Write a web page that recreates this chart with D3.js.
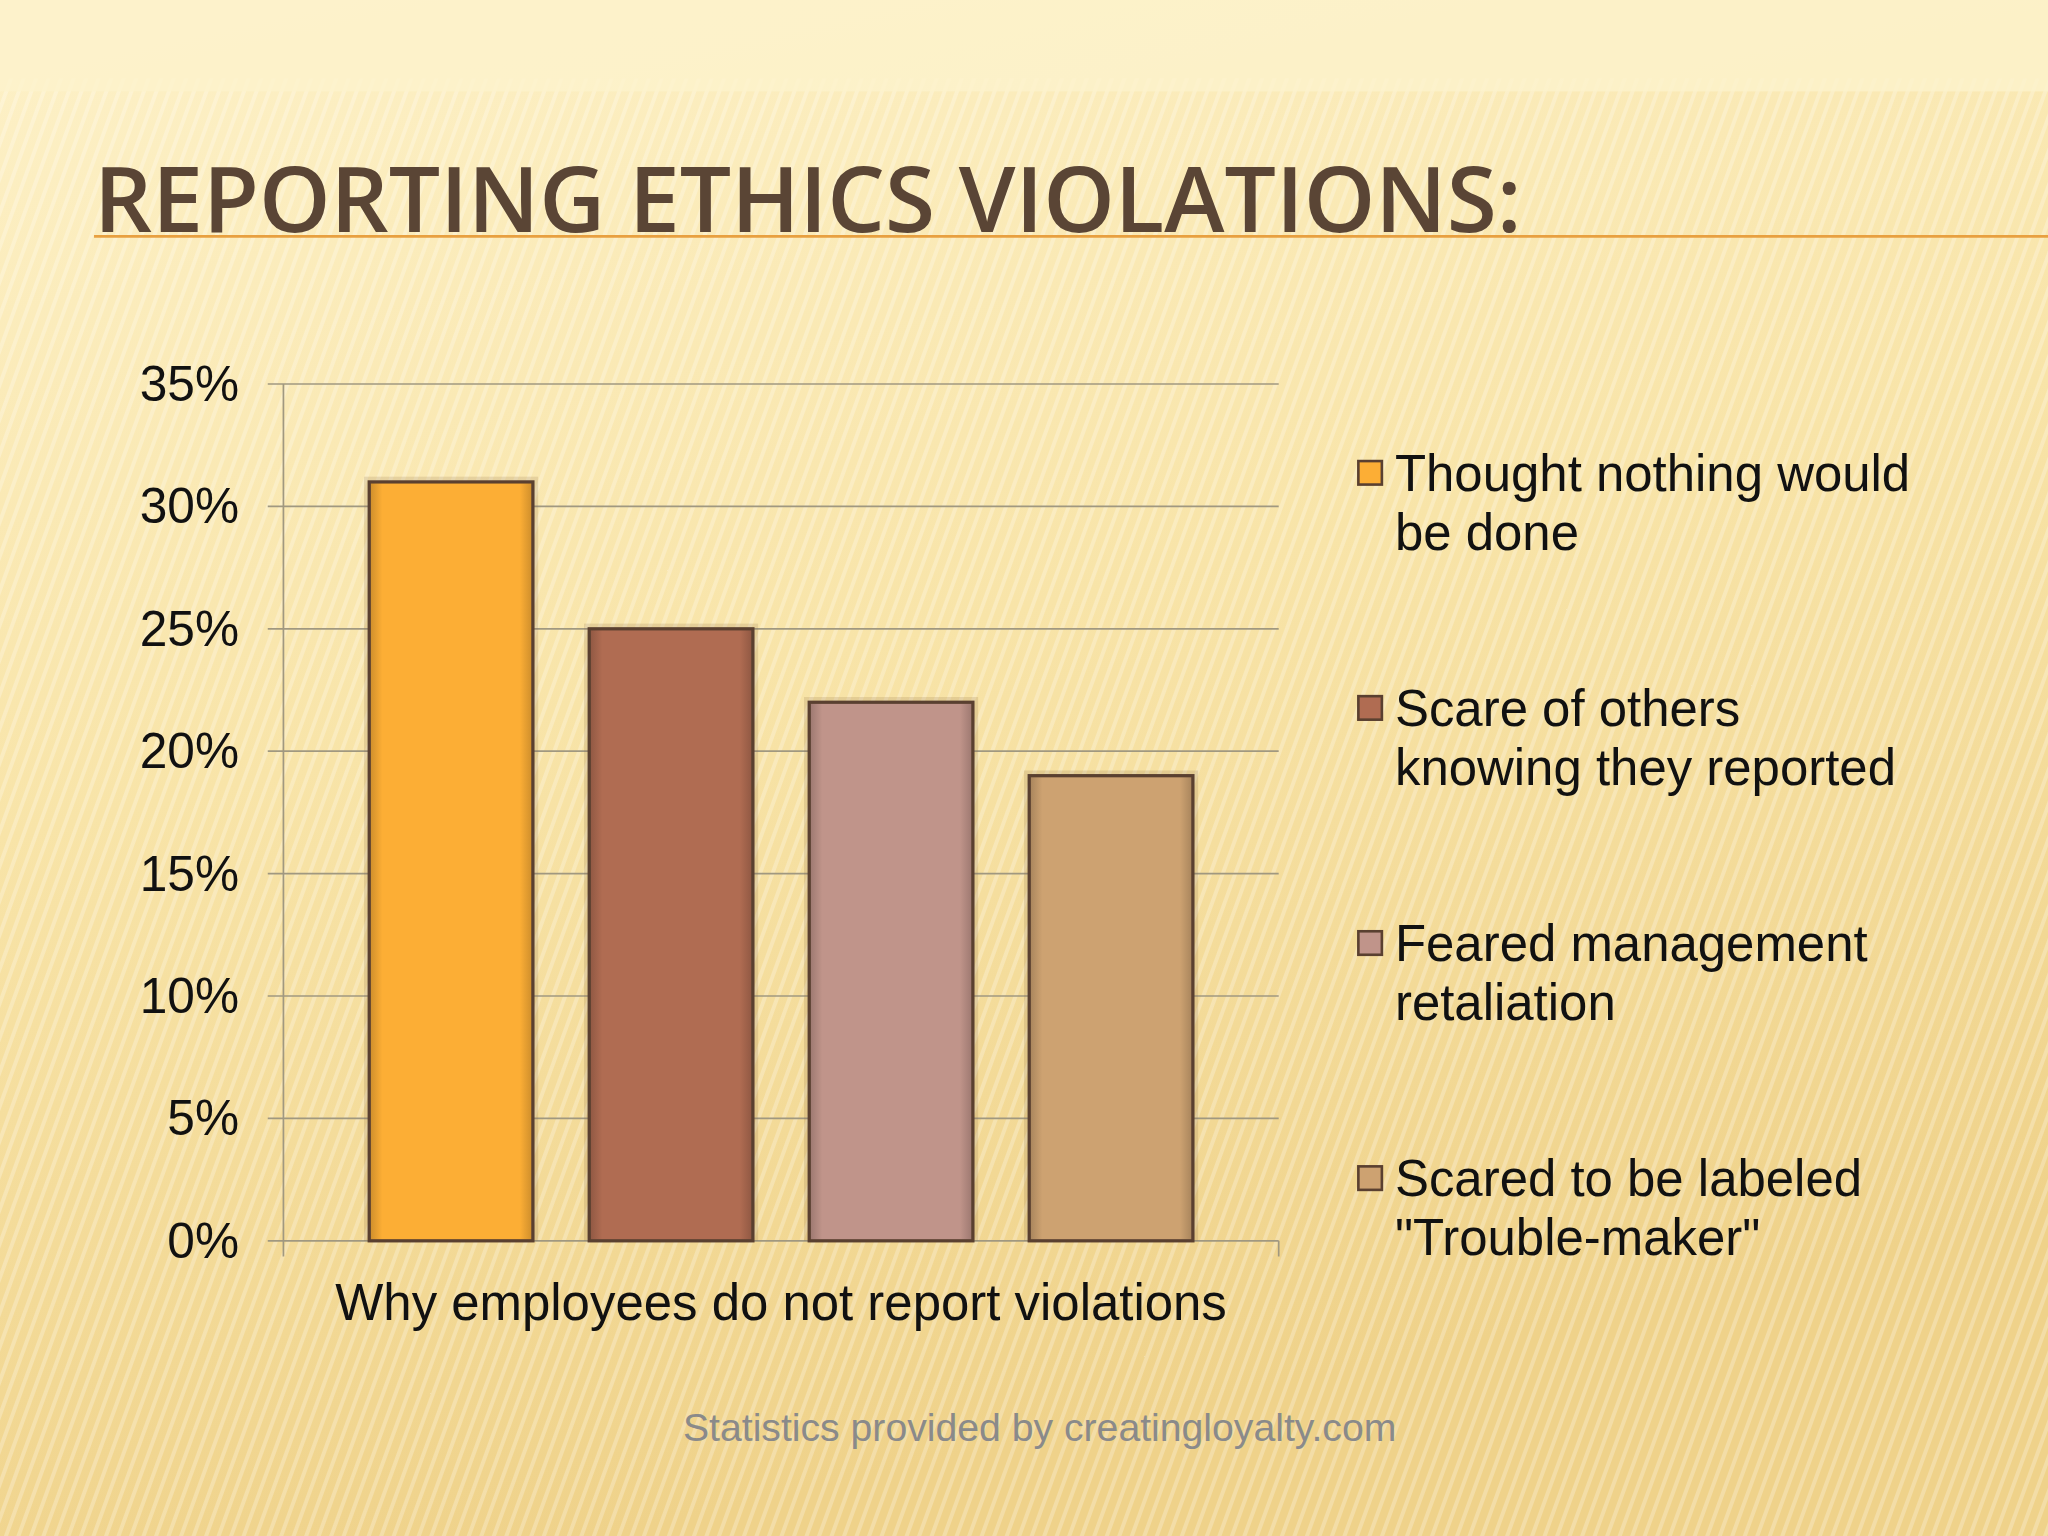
<!DOCTYPE html>
<html><head><meta charset="utf-8">
<script src="https://cdn.jsdelivr.net/npm/d3@7"></script>
<style>body{margin:0;overflow:hidden}</style>
</head><body>
<script>
var categories = ["Thought nothing would be done", "Scare of others knowing they reported",
                  "Feared management retaliation", "Scared to be labeled \"Trouble-maker\""];
var legendLines = [["Thought nothing would", "be done"], ["Scare of others", "knowing they reported"],
                   ["Feared management", "retaliation"], ["Scared to be labeled", "\"Trouble-maker\""]];
var values = [0.31, 0.25, 0.22, 0.19];
var ticks = [0, 0.05, 0.10, 0.15, 0.20, 0.25, 0.30, 0.35];
var colors = ["#fcae35", "#b06c52", "#c0948a", "#cda271"];

var W = 1568, H = 1176;
var svg = d3.select("body").append("svg")
    .attr("width", 2048).attr("height", 1536)
    .attr("viewBox", "0 0 " + W + " " + H);
var defs = svg.append("defs");

// background
var bg = defs.append("linearGradient").attr("id", "bg").attr("x1", 0).attr("y1", 0).attr("x2", 0.3).attr("y2", 1);
bg.append("stop").attr("offset", 0).attr("stop-color", "#fdf1c8");
bg.append("stop").attr("offset", 0.5).attr("stop-color", "#f8e4a8");
bg.append("stop").attr("offset", 1).attr("stop-color", "#efd28a");
svg.append("rect").attr("width", W).attr("height", H).attr("fill", "url(#bg)");
var pat = defs.append("pattern").attr("id", "stripes").attr("width", 9).attr("height", 9)
    .attr("patternUnits", "userSpaceOnUse").attr("patternTransform", "rotate(20)");
pat.append("rect").attr("width", 3).attr("height", 9).attr("fill", "#ffffff").attr("opacity", 0.25);
svg.append("rect").attr("y", 60).attr("width", W).attr("height", H - 60).attr("fill", "url(#stripes)");
svg.append("rect").attr("width", W).attr("height", 70).attr("fill", "#fdf2cc").attr("opacity", 0.8);

// title
svg.append("line").attr("x1", 72).attr("x2", W).attr("y1", 181).attr("y2", 181)
    .attr("stroke", "#e8a040").attr("stroke-width", 2);
svg.append("text").attr("x", 72).attr("y", 178)
    .attr("font-family", "Open Sans, sans-serif").attr("font-size", 70).attr("font-weight", 600)
    .attr("fill", "#5a4535").attr("textLength", 1093).attr("lengthAdjust", "spacingAndGlyphs")
    .text("REPORTING ETHICS VIOLATIONS:");

// scales
var y = d3.scaleLinear().domain([0, 0.35]).range([950, 294]);
var x = d3.scaleBand().domain(categories).range([217, 979]).paddingInner(0.256).paddingOuter(0.39);
var font = "Liberation Sans, Arial, sans-serif";

var g = svg.append("g");
g.selectAll(".grid").data(ticks).join("line")
    .attr("x1", 205).attr("x2", 979).attr("y1", d => y(d)).attr("y2", d => y(d))
    .attr("stroke", "#a09880").attr("stroke-width", 1.3);
g.append("line").attr("x1", 217).attr("x2", 217).attr("y1", 294).attr("y2", 950).attr("stroke", "#a09880").attr("stroke-width", 1.3);
g.append("line").attr("x1", 979).attr("x2", 979).attr("y1", 950).attr("y2", 962).attr("stroke", "#a09880").attr("stroke-width", 1.3);
g.append("line").attr("x1", 217).attr("x2", 217).attr("y1", 950).attr("y2", 962).attr("stroke", "#a09880").attr("stroke-width", 1.3);
g.selectAll(".tl").data(ticks).join("text")
    .attr("x", 183).attr("y", d => y(d) + 13).attr("text-anchor", "end")
    .attr("font-family", font).attr("font-size", 38).attr("fill", "#111")
    .text(d => d3.format(".0%")(d));

// bars
colors.forEach(function(c, i) {
  var gr = defs.append("linearGradient").attr("id", "bar" + i);
  gr.append("stop").attr("offset", 0).attr("stop-color", d3.color(c).darker(0.6));
  gr.append("stop").attr("offset", 0.08).attr("stop-color", c);
  gr.append("stop").attr("offset", 0.92).attr("stop-color", c);
  gr.append("stop").attr("offset", 1).attr("stop-color", d3.color(c).darker(0.6));
});
g.selectAll(".shadow").data(values).join("rect")
    .attr("x", (d, i) => x(categories[i]) - 4).attr("y", d => y(d) - 4)
    .attr("width", x.bandwidth() + 8).attr("height", d => 954 - y(d))
    .attr("fill", "#8a6a40").attr("opacity", 0.18);
g.selectAll(".bar").data(values).join("rect")
    .attr("x", (d, i) => x(categories[i])).attr("y", d => y(d))
    .attr("width", x.bandwidth()).attr("height", d => 950 - y(d))
    .attr("fill", (d, i) => "url(#bar" + i + ")")
    .attr("stroke", "#5a4030").attr("stroke-width", 2.5);

g.append("text").attr("x", 598).attr("y", 1011).attr("text-anchor", "middle")
    .attr("font-family", font).attr("font-size", 39).attr("fill", "#111")
    .text("Why employees do not report violations");

// legend
var lg = svg.selectAll(".lg").data(legendLines).join("g")
    .attr("transform", (d, i) => "translate(1040," + (363 + i * 180) + ")");
lg.append("rect").attr("x", 0).attr("y", -10).attr("width", 18).attr("height", 18)
    .attr("fill", (d, i) => colors[i]).attr("stroke", "#5a4030").attr("stroke-width", 2);
lg.each(function(d) {
  d3.select(this).selectAll("text").data(d).join("text")
    .attr("x", 28).attr("y", (t, j) => 13 + j * 45)
    .attr("font-family", font).attr("font-size", 39).attr("fill", "#111").text(t => t);
});

svg.append("text").attr("x", 796).attr("y", 1103).attr("text-anchor", "middle")
    .attr("font-family", font).attr("font-size", 30).attr("fill", "#8a8a8a")
    .text("Statistics provided by creatingloyalty.com");
</script>
</body></html>
